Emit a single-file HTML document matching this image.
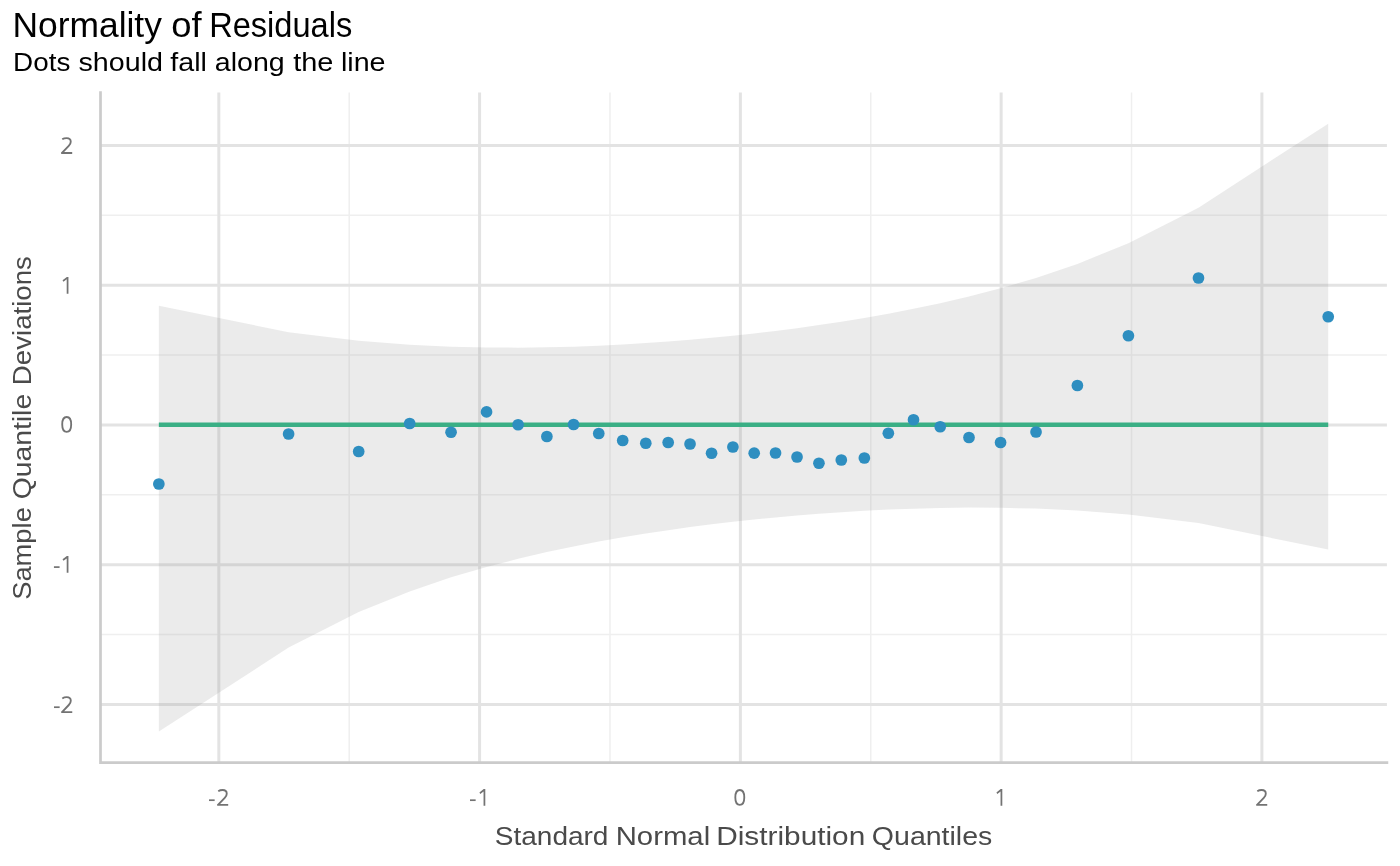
<!DOCTYPE html><html><head><meta charset="utf-8"><title>Normality of Residuals</title><style>html,body{margin:0;padding:0;background:#fff;overflow:hidden}svg{display:block;will-change:transform}text{font-family:"Liberation Sans",sans-serif;font-kerning:none}</style></head><body><svg width="1400" height="866" viewBox="0 0 1400 866"><rect width="1400" height="866" fill="#fff"/><path d="M349.22,92.6V762.65M609.99,92.6V762.65M870.75,92.6V762.65M1131.53,92.6V762.65M100.5,215.37H1386.9M100.5,355.1H1386.9M100.5,494.82H1386.9M100.5,634.55H1386.9" stroke="#efefef" stroke-width="1.5" fill="none"/><path d="M218.83,92.6V762.65M479.6,92.6V762.65M740.37,92.6V762.65M1001.14,92.6V762.65M1261.91,92.6V762.65M100.5,145.5H1386.9M100.5,285.23H1386.9M100.5,424.96H1386.9M100.5,564.69H1386.9M100.5,704.42H1386.9" stroke="#e3e3e3" stroke-width="3.0" fill="none"/><polygon points="158.86,305.73 288.6,332.18 358.68,340.77 409.69,344.73 451.05,346.66 486.54,347.5 518.1,347.64 546.87,347.31 573.59,346.64 598.75,345.69 622.72,344.5 645.79,343.12 668.17,341.55 690.04,339.8 711.58,337.87 732.91,335.76 754.18,333.45 775.52,330.92 797.05,328.14 818.93,325.09 841.31,321.71 864.37,317.94 888.34,313.68 913.51,308.83 940.22,303.18 968.99,296.48 1000.56,288.3 1036.05,277.89 1077.4,263.88 1128.42,243.24 1198.49,207.66 1328.23,123.66 1328.23,549.53 1198.49,523.09 1128.42,514.5 1077.4,510.54 1036.05,508.6 1000.56,507.77 968.99,507.62 940.22,507.95 913.51,508.63 888.34,509.58 864.37,510.76 841.31,512.15 818.93,513.72 797.05,515.46 775.52,517.39 754.18,519.51 732.91,521.82 711.58,524.35 690.04,527.12 668.17,530.17 645.79,533.55 622.72,537.33 598.75,541.58 573.59,546.44 546.87,552.08 518.1,558.78 486.54,566.97 451.05,577.37 409.69,591.38 358.68,612.03 288.6,647.6 158.86,731.61" fill="#999999" fill-opacity="0.2"/><line x1="158.86" y1="424.8" x2="1328.23" y2="424.8" stroke="#3aaf85" stroke-width="4.5"/><g fill="#2e8ec0"><circle cx="158.86" cy="484" r="5.85"/><circle cx="288.6" cy="434" r="5.85"/><circle cx="358.68" cy="451.5" r="5.85"/><circle cx="409.69" cy="423.5" r="5.85"/><circle cx="451.05" cy="432.25" r="5.85"/><circle cx="486.54" cy="411.9" r="5.85"/><circle cx="518.1" cy="424.75" r="5.85"/><circle cx="546.87" cy="436.5" r="5.85"/><circle cx="573.59" cy="424.5" r="5.85"/><circle cx="598.75" cy="433.5" r="5.85"/><circle cx="622.72" cy="440.5" r="5.85"/><circle cx="645.79" cy="443.25" r="5.85"/><circle cx="668.17" cy="442.5" r="5.85"/><circle cx="690.04" cy="444" r="5.85"/><circle cx="711.58" cy="453.25" r="5.85"/><circle cx="732.91" cy="447" r="5.85"/><circle cx="754.18" cy="453.2" r="5.85"/><circle cx="775.52" cy="453" r="5.85"/><circle cx="797.05" cy="457" r="5.85"/><circle cx="818.93" cy="463.25" r="5.85"/><circle cx="841.31" cy="460" r="5.85"/><circle cx="864.37" cy="458" r="5.85"/><circle cx="888.34" cy="433.25" r="5.85"/><circle cx="913.51" cy="419.75" r="5.85"/><circle cx="940.22" cy="426.75" r="5.85"/><circle cx="968.99" cy="437.5" r="5.85"/><circle cx="1000.56" cy="442.5" r="5.85"/><circle cx="1036.05" cy="432" r="5.85"/><circle cx="1077.4" cy="385.5" r="5.85"/><circle cx="1128.42" cy="335.75" r="5.85"/><circle cx="1198.49" cy="278" r="5.85"/><circle cx="1328.23" cy="316.75" r="5.85"/></g><path d="M100.5,92.6V762.65M100.5,762.65H1386.9" fill="none" stroke="#cbcbcb" stroke-width="2.7" stroke-linecap="square"/><path transform="translate(61.05,137.1)" d="M1.2,2.2C2.5,1.3 4,0.95 5.6,0.95C8.1,0.95 9.7,2.4 9.7,4.6C9.7,6.2 9,7.4 7.7,8.8L0.95,15.85M0.1,15.85H11.15" fill="none" stroke="#737373" stroke-width="1.85"/><path transform="translate(62.45,276.95)" d="M4.4,0H6.0V16.75H4.25V2.4L1,4.85L0.1,3.3Z" fill="#737373"/><path d="M66.7,417.03C69.39,417.03 71.18,420 71.18,424.48C71.18,428.95 69.39,431.93 66.7,431.93C64.01,431.93 62.22,428.95 62.22,424.48C62.22,420 64.01,417.03 66.7,417.03Z" fill="none" stroke="#737373" stroke-width="1.85"/><rect x="53.93" y="566.25" width="5.65" height="1.7" fill="#737373"/><path transform="translate(62.45,556)" d="M4.4,0H6.0V16.75H4.25V2.4L1,4.85L0.1,3.3Z" fill="#737373"/><rect x="54" y="706.35" width="5.65" height="1.7" fill="#737373"/><path transform="translate(61.1,696.2)" d="M1.2,2.2C2.5,1.3 4,0.95 5.6,0.95C8.1,0.95 9.7,2.4 9.7,4.6C9.7,6.2 9,7.4 7.7,8.8L0.95,15.85M0.1,15.85H11.15" fill="none" stroke="#737373" stroke-width="1.85"/><rect x="209" y="799.35" width="5.65" height="1.7" fill="#737373"/><path transform="translate(217.05,789.1)" d="M1.2,2.2C2.5,1.3 4,0.95 5.6,0.95C8.1,0.95 9.7,2.4 9.7,4.6C9.7,6.2 9,7.4 7.7,8.8L0.95,15.85M0.1,15.85H11.15" fill="none" stroke="#737373" stroke-width="1.85"/><rect x="470" y="799.35" width="5.65" height="1.7" fill="#737373"/><path transform="translate(479.3,789.1)" d="M4.4,0H6.0V16.75H4.25V2.4L1,4.85L0.1,3.3Z" fill="#737373"/><path d="M739.8,790.02C742.49,790.02 744.28,793 744.28,797.48C744.28,801.95 742.49,804.93 739.8,804.93C737.11,804.93 735.32,801.95 735.32,797.48C735.32,793 737.11,790.02 739.8,790.02Z" fill="none" stroke="#737373" stroke-width="1.85"/><path transform="translate(996.3,789.1)" d="M4.4,0H6.0V16.75H4.25V2.4L1,4.85L0.1,3.3Z" fill="#737373"/><path transform="translate(1256.1,789.1)" d="M1.2,2.2C2.5,1.3 4,0.95 5.6,0.95C8.1,0.95 9.7,2.4 9.7,4.6C9.7,6.2 9,7.4 7.7,8.8L0.95,15.85M0.1,15.85H11.15" fill="none" stroke="#737373" stroke-width="1.85"/><g fill="#000"><text x="12.5" y="36.9" font-size="34.6" textLength="149.37" lengthAdjust="spacingAndGlyphs">Normality</text><text x="171.37" y="36.9" font-size="34.6" textLength="30.38" lengthAdjust="spacingAndGlyphs">of</text><text x="209.13" y="36.9" font-size="34.6" textLength="143.15" lengthAdjust="spacingAndGlyphs">Residuals</text></g><g fill="#000"><text x="13.12" y="70.85" font-size="25.7" textLength="57.19" lengthAdjust="spacingAndGlyphs">Dots</text><text x="78.5" y="70.85" font-size="25.7" textLength="84.44" lengthAdjust="spacingAndGlyphs">should</text><text x="170.29" y="70.85" font-size="25.7" textLength="36.62" lengthAdjust="spacingAndGlyphs">fall</text><text x="214.89" y="70.85" font-size="25.7" textLength="69.85" lengthAdjust="spacingAndGlyphs">along</text><text x="293.16" y="70.85" font-size="25.7" textLength="40.22" lengthAdjust="spacingAndGlyphs">the</text><text x="340.97" y="70.85" font-size="25.7" textLength="44.6" lengthAdjust="spacingAndGlyphs">line</text></g><g fill="#4a4a4a"><text x="494.83" y="845" font-size="26.3" textLength="113.57" lengthAdjust="spacingAndGlyphs">Standard</text><text x="615.7" y="845" font-size="26.3" textLength="94.47" lengthAdjust="spacingAndGlyphs">Normal</text><text x="716.26" y="845" font-size="26.3" textLength="148.98" lengthAdjust="spacingAndGlyphs">Distribution</text><text x="871.85" y="845" font-size="26.3" textLength="120.48" lengthAdjust="spacingAndGlyphs">Quantiles</text></g><g transform="rotate(-90)"><g fill="#4a4a4a"><text x="-599.84" y="31" font-size="26.3" textLength="92.66" lengthAdjust="spacingAndGlyphs">Sample</text><text x="-499.34" y="31" font-size="26.3" textLength="105.5" lengthAdjust="spacingAndGlyphs">Quantile</text><text x="-385.17" y="31" font-size="26.3" textLength="129.07" lengthAdjust="spacingAndGlyphs">Deviations</text></g></g></svg></body></html>
